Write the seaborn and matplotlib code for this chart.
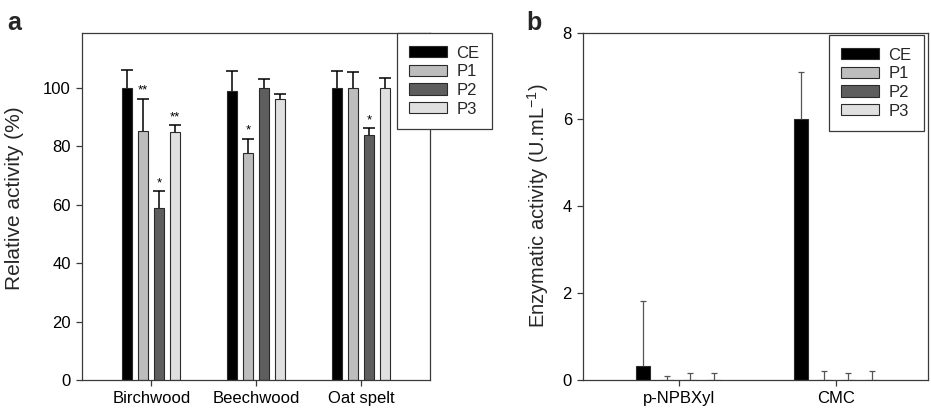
import numpy as np
import pandas as pd
import seaborn as sns
import matplotlib
matplotlib.use("Agg")
import matplotlib.pyplot as plt

# ---------------- data ----------------
samples = ["CE", "P1", "P2", "P3"]
colors = ["#000000", "#bdbdbd", "#5e5e5e", "#e0e0e0"]

substrates_a = ["Birchwood", "Beechwood", "Oat spelt"]
ce_a = [100.0, 98.9, 100.0]
p1_a = [85.4, 77.8, 100.0]
p2_a = [59.0, 100.0, 83.9]
p3_a = [85.1, 96.4, 100.0]
ce_err_a = [6.2, 7.0, 5.9]
p1_err_a = [11.0, 4.9, 5.4]
p2_err_a = [5.6, 3.2, 2.5]
p3_err_a = [2.3, 1.5, 3.3]
ce_sig_a = ["", "", ""]
p1_sig_a = ["**", "*", ""]
p2_sig_a = ["*", "", "*"]
p3_sig_a = ["**", "", ""]

substrates_b = ["p-NPBXyl", "CMC"]
ce_b = [0.32, 6.0]
p1_b = [0.0, 0.0]
p2_b = [0.0, 0.0]
p3_b = [0.0, 0.0]
ce_err_b = [1.5, 1.1]
p1_err_b = [0.1, 0.21]
p2_err_b = [0.15, 0.15]
p3_err_b = [0.15, 0.21]


def long_frame(subs, vals, errs, sigs=None):
    rows = []
    for s, v, e, k in zip(samples, vals, errs, sigs if sigs else [None] * 4):
        for i, sub in enumerate(subs):
            rows.append({"substrate": sub, "sample": s, "value": v[i], "err": e[i],
                         "sig": (k[i] if k else "")})
    return pd.DataFrame(rows)


df_a = long_frame(substrates_a, [ce_a, p1_a, p2_a, p3_a],
                  [ce_err_a, p1_err_a, p2_err_a, p3_err_a],
                  [ce_sig_a, p1_sig_a, p2_sig_a, p3_sig_a])
df_b = long_frame(substrates_b, [ce_b, p1_b, p2_b, p3_b],
                  [ce_err_b, p1_err_b, p2_err_b, p3_err_b])

# ---------------- style ----------------
sns.set_style("white")
plt.rcParams["font.family"] = ["Liberation Sans", "DejaVu Sans"]
plt.rcParams["axes.edgecolor"] = "#3a3a3a"
plt.rcParams["axes.linewidth"] = 0.9
plt.rcParams["xtick.color"] = "#3a3a3a"
plt.rcParams["ytick.color"] = "#3a3a3a"
plt.rcParams["xtick.labelcolor"] = "black"
plt.rcParams["ytick.labelcolor"] = "black"

fig = plt.figure(figsize=(9.31, 4.09), dpi=100)
ax_a = fig.add_axes([0.0881, 0.0709, 0.3743, 0.8496])
ax_b = fig.add_axes([0.6262, 0.0709, 0.3706, 0.8496])
pal = dict(zip(samples, colors))


def draw(ax, df, subs, width, gap, ecolor, elw, capsize, star=False, ystar=1.0):
    sns.barplot(data=df, x="substrate", y="value", hue="sample", order=subs,
                hue_order=samples, palette=pal, width=width, gap=gap,
                errorbar=None, edgecolor="#2a2a2a", linewidth=0.8,
                saturation=1, ax=ax, legend=True)
    for cont, s in zip(ax.containers, samples):
        sub = df[df["sample"] == s].set_index("substrate").loc[subs]
        xs = np.array([p.get_x() + p.get_width() / 2 for p in cont.patches])
        ys = sub["value"].values
        es = sub["err"].values
        ax.errorbar(xs, ys, yerr=[np.zeros_like(es), es], fmt="none",
                    ecolor=ecolor, elinewidth=elw, capsize=0, zorder=3)
        ax.plot(xs, ys + es, linestyle="none", marker="_", markersize=capsize,
                markeredgewidth=elw, color=ecolor, zorder=3)
        if star:
            for x, y, e, t in zip(xs, ys, es, sub["sig"].values):
                if t:
                    ax.text(x, y + e + ystar, t, ha="center", va="bottom",
                            fontsize=9.5, color="black")
    ax.set_xlabel("")
    ax.tick_params(axis="both", which="both", direction="out", length=4.5,
                   width=0.9, labelsize=12, bottom=True, left=True)
    for sp in ax.spines.values():
        sp.set_visible(True)


draw(ax_a, df_a, substrates_a, 0.608, 0.375, "black", 1.1, 8, star=True, ystar=0.6)
ax_a.set_xlim(-0.66, 2.66)
ax_a.set_ylim(0, 119)
ax_a.set_yticks([0, 20, 40, 60, 80, 100])
ax_a.set_ylabel("Relative activity (%)", fontsize=15)
ax_a.yaxis.set_label_coords(-0.167, 0.523)

draw(ax_b, df_b, substrates_b, 0.6, 0.41, "#555555", 0.9, 5)
ax_b.set_xlim(-0.607, 1.583)
ax_b.set_ylim(0, 8)
ax_b.set_yticks([0, 2, 4, 6, 8])
ax_b.set_ylabel(r"Enzymatic activity (U.mL$\mathregular{^{-1}}$)", fontsize=14.5, labelpad=8)

for ax, anchor in [(ax_a, (0.4264, 0.9193)), (ax_b, (0.8904, 0.9144))]:
    h, l = ax.get_legend_handles_labels()
    ax.legend(h, l, loc="upper left", bbox_to_anchor=anchor,
              bbox_transform=fig.transFigure, fontsize=12, frameon=True,
              fancybox=False, shadow=False, framealpha=1, edgecolor="#3a3a3a",
              borderpad=0.75, handlelength=2.25, handleheight=0.68,
              labelspacing=0.22, handletextpad=0.55, borderaxespad=0)
    ax.get_legend().get_frame().set_linewidth(0.9)

fig.text(0.008, 0.972, "a", fontsize=18, fontweight="bold", va="top", ha="left")
fig.text(0.565, 0.972, "b", fontsize=18, fontweight="bold", va="top", ha="left")

fig.savefig("out.png", dpi=100)
